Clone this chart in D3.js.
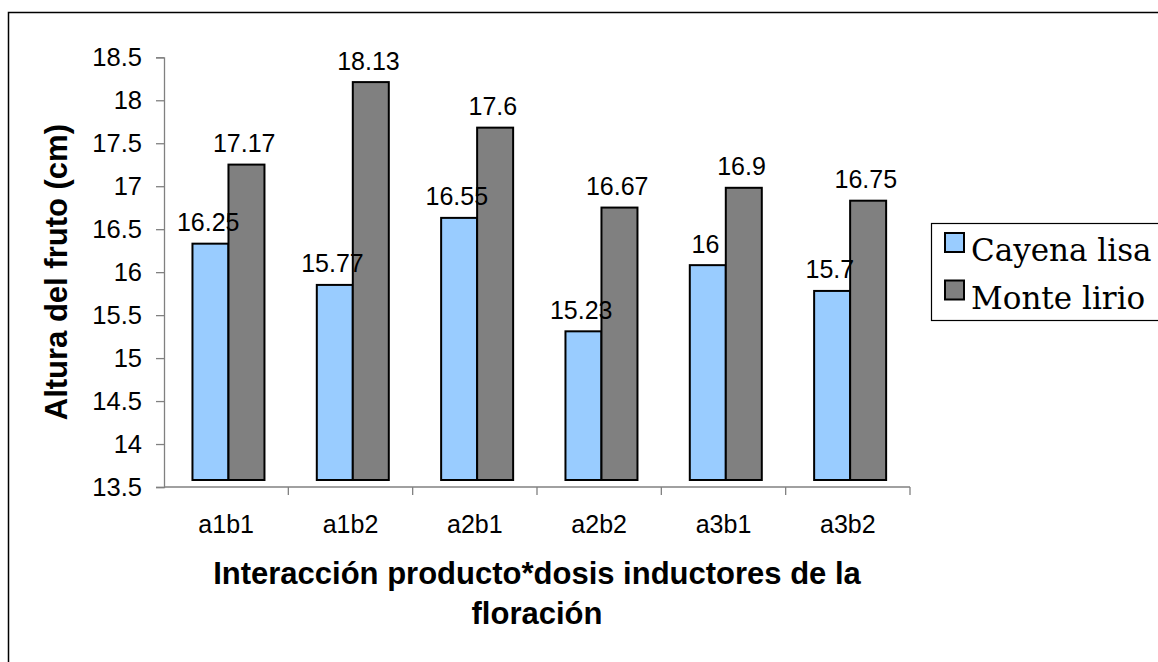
<!DOCTYPE html>
<html>
<head>
<meta charset="utf-8">
<script src="https://cdn.jsdelivr.net/npm/d3@7"></script>
<style>
  html, body { margin: 0; padding: 0; background: #ffffff; }
  svg { display: block; }
</style>
</head>
<body>
<svg id="chart" width="1158" height="662"></svg>
<script>
// Fruit height by product*dose interaction, two pineapple varieties
const categories = ["a1b1", "a1b2", "a2b1", "a2b2", "a3b1", "a3b2"];
const seriesNames = ["Cayena lisa", "Monte lirio"];
const cayenaLisa = [16.25, 15.77, 16.55, 15.23, 16, 15.7];
const monteLirio = [17.17, 18.13, 17.6, 16.67, 16.9, 16.75];
const yTickValues = [13.5, 14, 14.5, 15, 15.5, 16, 16.5, 17, 17.5, 18, 18.5];
const seriesColors = ["#99CCFF", "#808080"];

const seriesValues = [cayenaLisa, monteLirio];
const rows = categories.map((c, i) => ({
  category: c,
  values: seriesNames.map((s, k) => ({ series: s, value: seriesValues[k][i], k }))
}));

const svg = d3.select("#chart");
const sans = "'Liberation Sans', Arial, sans-serif";
const serif = "'DejaVu Serif', serif";

// outer chart frame (runs off the right and bottom edges)
svg.append("rect")
  .attr("x", 8.5).attr("y", 12.5)
  .attr("width", 1300).attr("height", 800)
  .attr("fill", "none").attr("stroke", "#000").attr("stroke-width", 1.5);

const plot = { left: 164, right: 910, top: 57.3, bottom: 487 };

const x = d3.scaleBand().domain(categories).range([plot.left, plot.right]).padding(0);
const bw = x.bandwidth();
const xInner = d3.scaleBand().domain(seriesNames)
  .range([bw / 2 - 36, bw / 2 + 36]).padding(0);
const y = d3.scaleLinear().domain([13.5, 18.5]).range([plot.bottom, plot.top]);

// bars, drawn with the slight raised offset of the original chart
const barShift = { dx: 2.3, dy: -7 };
const groups = svg.append("g")
  .attr("transform", `translate(${barShift.dx},${barShift.dy})`)
  .selectAll("g.cat").data(rows).join("g")
  .attr("class", "cat")
  .attr("transform", d => `translate(${x(d.category)},0)`);

groups.selectAll("rect").data(d => d.values).join("rect")
  .attr("x", d => xInner(d.series))
  .attr("width", xInner.bandwidth())
  .attr("y", d => y(d.value))
  .attr("height", d => y(13.5) - y(d.value))
  .attr("fill", d => seriesColors[d.k])
  .attr("stroke", "#000")
  .attr("stroke-width", 2);

// value labels above each bar
const labelGroups = svg.append("g")
  .selectAll("g").data(rows).join("g")
  .attr("transform", d => `translate(${x(d.category)},0)`);
labelGroups.selectAll("text").data(d => d.values).join("text")
  .attr("x", d => xInner(d.series) + xInner.bandwidth() / 2)
  .attr("y", d => y(d.value) + barShift.dy - 12.5)
  .attr("text-anchor", "middle")
  .attr("font-family", sans)
  .attr("font-size", 25)
  .attr("fill", "#000")
  .text(d => String(d.value));

// y axis
const yAxis = svg.append("g")
  .attr("transform", `translate(${plot.left},0)`)
  .call(d3.axisLeft(y).tickValues(yTickValues).tickSize(8).tickPadding(14)
    .tickFormat(d => String(d)));
yAxis.select(".domain").attr("stroke", "#808080").attr("stroke-width", 1.3);
yAxis.selectAll(".tick line").attr("stroke", "#808080").attr("stroke-width", 1.3);
yAxis.selectAll(".tick text")
  .attr("font-family", sans).attr("font-size", 25.5).attr("fill", "#000");

// x axis with ticks between categories
const xAxisG = svg.append("g").attr("transform", `translate(0,${plot.bottom})`);
xAxisG.append("line")
  .attr("x1", plot.left).attr("x2", plot.right)
  .attr("stroke", "#808080").attr("stroke-width", 1.3);
xAxisG.selectAll("line.sep").data(categories).join("line")
  .attr("class", "sep")
  .attr("x1", d => x(d) + bw).attr("x2", d => x(d) + bw)
  .attr("y1", 0).attr("y2", 8)
  .attr("stroke", "#808080").attr("stroke-width", 1.3);
xAxisG.selectAll("text").data(categories).join("text")
  .attr("x", d => x(d) + bw / 2)
  .attr("y", 46)
  .attr("text-anchor", "middle")
  .attr("font-family", sans).attr("font-size", 25).attr("fill", "#000")
  .text(d => d);

// axis titles
svg.append("text")
  .attr("transform", `translate(67,${(plot.top + plot.bottom) / 2}) rotate(-90)`)
  .attr("text-anchor", "middle")
  .attr("font-family", sans).attr("font-size", 31).attr("font-weight", "bold")
  .text("Altura del fruto (cm)");

const xTitle = svg.append("text")
  .attr("text-anchor", "middle")
  .attr("font-family", sans).attr("font-size", 31).attr("font-weight", "bold");
xTitle.append("tspan").attr("x", (plot.left + plot.right) / 2).attr("y", 584)
  .text("Interacción producto*dosis inductores de la");
xTitle.append("tspan").attr("x", (plot.left + plot.right) / 2).attr("y", 624)
  .text("floración");

// legend
const legend = svg.append("g");
legend.append("rect")
  .attr("x", 931.5).attr("y", 223.5).attr("width", 300).attr("height", 97)
  .attr("fill", "#fff").attr("stroke", "#000").attr("stroke-width", 1.2);
const items = legend.selectAll("g.item").data(seriesNames).join("g")
  .attr("class", "item")
  .attr("transform", (d, i) => `translate(0,${i * 47.5})`);
items.append("rect")
  .attr("x", 945).attr("y", 233).attr("width", 19).attr("height", 19)
  .attr("fill", (d, i) => seriesColors[i])
  .attr("stroke", "#000").attr("stroke-width", 2);
items.append("text")
  .attr("x", 971).attr("y", 261)
  .attr("font-family", serif).attr("font-size", 31).attr("fill", "#000")
  .text(d => d);
</script>
</body>
</html>
